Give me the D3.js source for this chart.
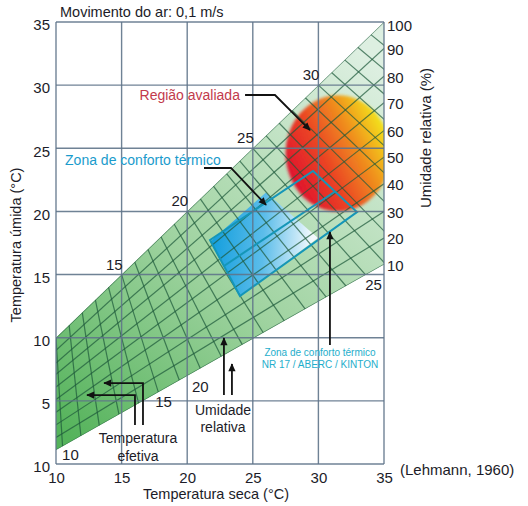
<!DOCTYPE html>
<html>
<head>
<meta charset="utf-8">
<script src="https://cdn.jsdelivr.net/npm/d3@7"></script>
<style>
  body { margin: 0; background: #fff; }
  text { font-family: "Liberation Sans", Arial, sans-serif; fill: #1c1c28; }
</style>
</head>
<body>
<div id="chart"></div>
<script>
// Axis Ticks
const xTicks = [10, 15, 20, 25, 30, 35];
const yTicks = [0, 5, 10, 15, 20, 25, 30, 35];
const yTickLabels = ["10", "5", "10", "15", "20", "25", "30", "35"];

// Relative Humidity Lines (wet bulb at dry bulb 10 and 35)
const rhLabels = [100, 90, 80, 70, 60, 50, 40, 30, 20, 10];
const rhAtLeft = [10, 9.0, 8.0, 7.1, 6.1, 5.1, 4.1, 3.1, 2.1, 1.1];
const rhAtRight = [35, 32.9, 30.7, 28.6, 26.4, 24.3, 22.2, 20.0, 17.9, 15.8];

// Effective Temperature Lines (top on saturation line, bottom dry bulb on lower edge)
const etValues = [10, 11, 12, 13, 14, 15, 16, 17, 18, 19, 20, 21, 22, 23, 24, 25, 26, 27, 28, 29, 30, 31, 32, 33, 34, 35];
const etBottomX = [10.5, 11.9, 13.3, 14.8, 16.3, 17.8, 19.4, 21.0, 22.6, 24.2, 25.8, 27.4, 29.0, 30.6, 32.1, 33.6, 35.1, 36.6, 38.1, 39.6, 41.1, 42.6, 44.1, 45.6, 47.1, 48.6];
const etTopLabels = [15, 20, 25, 30];
const etLowLabels = ["10", "15", "20", "25"];
const etLowX = [11.1, 18.2, 21.0, 34.2];
const etLowY = [0.3, 4.5, 5.7, 13.8];

// Zones (dry bulb, wet bulb)
const comfortFill = [[21.74, 17.6], [26.0, 21.5], [29.97, 17.9], [24.02, 13.3]];
const comfortOutline = [[21.74, 17.74], [29.59, 23.2], [32.94, 19.95], [24.02, 13.3]];
const comfortMid = [[22.8, 15.68], [31.27, 21.58]];
const evaluated = { x: 31.5, y: 24.6, rx: 4.0, ry: 4.6 };

// Dimensions
let w = 528, h = 506;
let pLeft = 56, pRight = 384, pTop = 22, pBottom = 464;

let svg = d3.select("#chart").append("svg").attr("width", w).attr("height", h);
let defs = svg.append("defs");

let xs = d3.scaleLinear().domain([10, 35]).range([pLeft, pRight]);
let ys = d3.scaleLinear().domain([0, 35]).range([pBottom, pTop]);
let lowEdge = d3.scaleLinear().domain([10, 35]).range([rhAtLeft[9], rhAtRight[9]]);
let line = d3.line().x((d) => xs(d[0])).y((d) => ys(d[1]));

// Clip + Gradients
defs.append("clipPath").attr("id", "plot").append("rect")
  .attr("x", pLeft).attr("y", pTop).attr("width", pRight - pLeft).attr("height", pBottom - pTop);

let gGreen = defs.append("linearGradient").attr("id", "green").attr("gradientUnits", "userSpaceOnUse")
  .attr("x1", 60).attr("y1", 430).attr("x2", 370).attr("y2", 60);
gGreen.append("stop").attr("offset", 0).attr("stop-color", "#55b35b");
gGreen.append("stop").attr("offset", 0.45).attr("stop-color", "#9fd3a0");
gGreen.append("stop").attr("offset", 1).attr("stop-color", "#ddefe1");

let gBlue = defs.append("linearGradient").attr("id", "blue").attr("gradientUnits", "userSpaceOnUse")
  .attr("x1", 215).attr("y1", 235).attr("x2", 312).attr("y2", 240);
gBlue.append("stop").attr("offset", 0).attr("stop-color", "#17a0de");
gBlue.append("stop").attr("offset", 0.5).attr("stop-color", "#5cbdea");
gBlue.append("stop").attr("offset", 1).attr("stop-color", "#f2f9fd");

let gRed = defs.append("linearGradient").attr("id", "red").attr("gradientUnits", "userSpaceOnUse")
  .attr("x1", 290).attr("y1", 175).attr("x2", 386).attr("y2", 125);
gRed.append("stop").attr("offset", 0).attr("stop-color", "#e0142e");
gRed.append("stop").attr("offset", 0.35).attr("stop-color", "#ea4424");
gRed.append("stop").attr("offset", 0.68).attr("stop-color", "#f0901e");
gRed.append("stop").attr("offset", 1).attr("stop-color", "#f3e81c");

defs.append("filter").attr("id", "soft").append("feGaussianBlur").attr("stdDeviation", 1.6);

defs.append("marker").attr("id", "arrow").attr("viewBox", "0 0 10 10")
  .attr("refX", 9).attr("refY", 5).attr("markerUnits", "userSpaceOnUse")
  .attr("markerWidth", 9).attr("markerHeight", 8).attr("orient", "auto")
  .append("path").attr("d", "M0,0.5 L10,5 L0,9.5 z").attr("fill", "#111");

let plot = svg.append("g").attr("clip-path", "url(#plot)");

// Green Wedge
let wedge = [[10, rhAtLeft[0]], [35, rhAtRight[0]], [35, rhAtRight[9]], [10, rhAtLeft[9]]];
plot.append("path").attr("d", line(wedge) + "Z").attr("fill", "url(#green)");

// Comfort Zone Fill
plot.append("path").attr("d", line(comfortFill) + "Z").attr("fill", "url(#blue)");

// Evaluated Region
plot.append("ellipse").attr("cx", xs(evaluated.x)).attr("cy", ys(evaluated.y))
  .attr("rx", xs(evaluated.x + evaluated.rx) - xs(evaluated.x))
  .attr("ry", ys(evaluated.y) - ys(evaluated.y + evaluated.ry))
  .attr("fill", "url(#red)").attr("filter", "url(#soft)");

// Nomogram Lines
defs.append("clipPath").attr("id", "wedge").append("path").attr("d", line(wedge) + "Z");
let inner = plot.append("g").attr("clip-path", "url(#wedge)");
rhLabels.forEach((r, i) => {
  inner.append("path").attr("d", line([[10, rhAtLeft[i]], [35, rhAtRight[i]]]))
    .attr("stroke", "#1f5a3c").attr("stroke-opacity", 0.72).attr("stroke-width", 1.2).attr("fill", "none");
});
etValues.forEach((k, i) => {
  inner.append("path").attr("d", line([[k, k], [etBottomX[i], lowEdge(etBottomX[i])]]))
    .attr("stroke", "#1f5a3c").attr("stroke-opacity", 0.72).attr("stroke-width", 1.2).attr("fill", "none");
});

// Comfort Zone Outline
plot.append("path").attr("d", line(comfortOutline) + "Z")
  .attr("fill", "none").attr("stroke", "#1596b8").attr("stroke-width", 2);
plot.append("path").attr("d", line(comfortMid))
  .attr("fill", "none").attr("stroke", "#1596b8").attr("stroke-width", 2);

// Grid
let grid = svg.append("g").attr("stroke", "#5f7489").attr("stroke-width", 1.4).attr("stroke-opacity", 0.9);
xTicks.forEach((v) => grid.append("line").attr("x1", xs(v)).attr("x2", xs(v)).attr("y1", pTop).attr("y2", pBottom));
yTicks.forEach((v) => grid.append("line").attr("x1", pLeft).attr("x2", pRight).attr("y1", ys(v)).attr("y2", ys(v)));

// Axes Labels
let xAxis = d3.axisBottom(xs).tickValues(xTicks).tickSize(0).tickPadding(8);
let yAxis = d3.axisLeft(ys).tickValues(yTicks).tickSize(0).tickPadding(6).tickFormat((d, i) => yTickLabels[i]);
let gx = svg.append("g").attr("transform", "translate(0," + pBottom + ")").call(xAxis);
let gy = svg.append("g").attr("transform", "translate(" + pLeft + ",3)").call(yAxis);
[gx, gy].forEach((g) => {
  g.select(".domain").remove();
  g.attr("font-family", null).attr("font-size", 15);
  g.selectAll("text").attr("fill", "#1c1c28");
});

// Right RH Labels
rhLabels.forEach((r, i) => {
  svg.append("text").text(r).attr("x", pRight + 3).attr("y", ys(rhAtRight[i]) + (i == 0 ? 4 : 1))
    .attr("dy", "0.35em").attr("font-size", 15);
});

// ET Labels
etTopLabels.forEach((k) => {
  svg.append("text").text(k).attr("x", xs(k) + 1).attr("y", ys(k) - 5)
    .attr("text-anchor", "end").attr("font-size", 15);
});
etLowLabels.forEach((t, i) => {
  svg.append("text").text(t).attr("x", xs(etLowX[i])).attr("y", ys(etLowY[i]))
    .attr("text-anchor", "middle").attr("font-size", 15);
});

// Titles
svg.append("text").text("Movimento do ar: 0,1 m/s").attr("x", 60).attr("y", 17).attr("font-size", 14.5);
svg.append("text").text("Temperatura seca (°C)").attr("x", 216).attr("y", 499)
  .attr("text-anchor", "middle").attr("font-size", 14.5);
svg.append("text").text("Temperatura úmida (°C)").attr("transform", "translate(21,245) rotate(-90)")
  .attr("text-anchor", "middle").attr("font-size", 14.5);
svg.append("text").text("Umidade relativa (%)").attr("transform", "translate(431,138) rotate(-90)")
  .attr("text-anchor", "middle").attr("font-size", 15);
svg.append("text").text("(Lehmann, 1960)").attr("x", 400).attr("y", 475).attr("font-size", 15);

// Annotations
function arrow(pts) {
  svg.append("path").attr("d", line(pts)).attr("fill", "none").attr("stroke", "#111")
    .attr("stroke-width", 1.8).attr("marker-end", "url(#arrow)");
}
function label(t, x, y, anchor, size, color) {
  svg.append("text").text(t).attr("x", xs(x)).attr("y", ys(y)).attr("text-anchor", anchor)
    .attr("font-size", size).style("fill", color);
}

label("Região avaliada", 24.02, 28.82, "end", 14, "#c23a4c");
arrow([[24.41, 29.22], [26.69, 29.22], [29.36, 26.44]]);

label("Zona de conforto térmico", 10.69, 23.67, "start", 14, "#1a9bcc");
arrow([[21.28, 23.44], [23.34, 23.44], [26.01, 20.51]]);

label("Zona de conforto térmico", 30.12, 8.55, "middle", 10, "#1eaecb");
label("NR 17 / ABERC / KINTON", 30.12, 7.6, "middle", 10, "#1eaecb");
arrow([[30.88, 9.42], [30.88, 18.37]]);

label("Umidade", 22.73, 3.88, "middle", 14, "#1c1c28");
label("relativa", 22.73, 2.53, "middle", 14, "#1c1c28");
arrow([[22.8, 5.46], [22.8, 9.98]]);
arrow([[23.41, 5.46], [23.41, 7.92]]);

label("Temperatura", 16.25, 1.66, "middle", 14, "#1c1c28");
label("efetiva", 16.25, 0.24, "middle", 14, "#1c1c28");
arrow([[16.02, 3.09], [16.02, 5.46], [12.36, 5.46]]);
arrow([[16.63, 3.09], [16.63, 6.41], [13.66, 6.41]]);
</script>
</body>
</html>
